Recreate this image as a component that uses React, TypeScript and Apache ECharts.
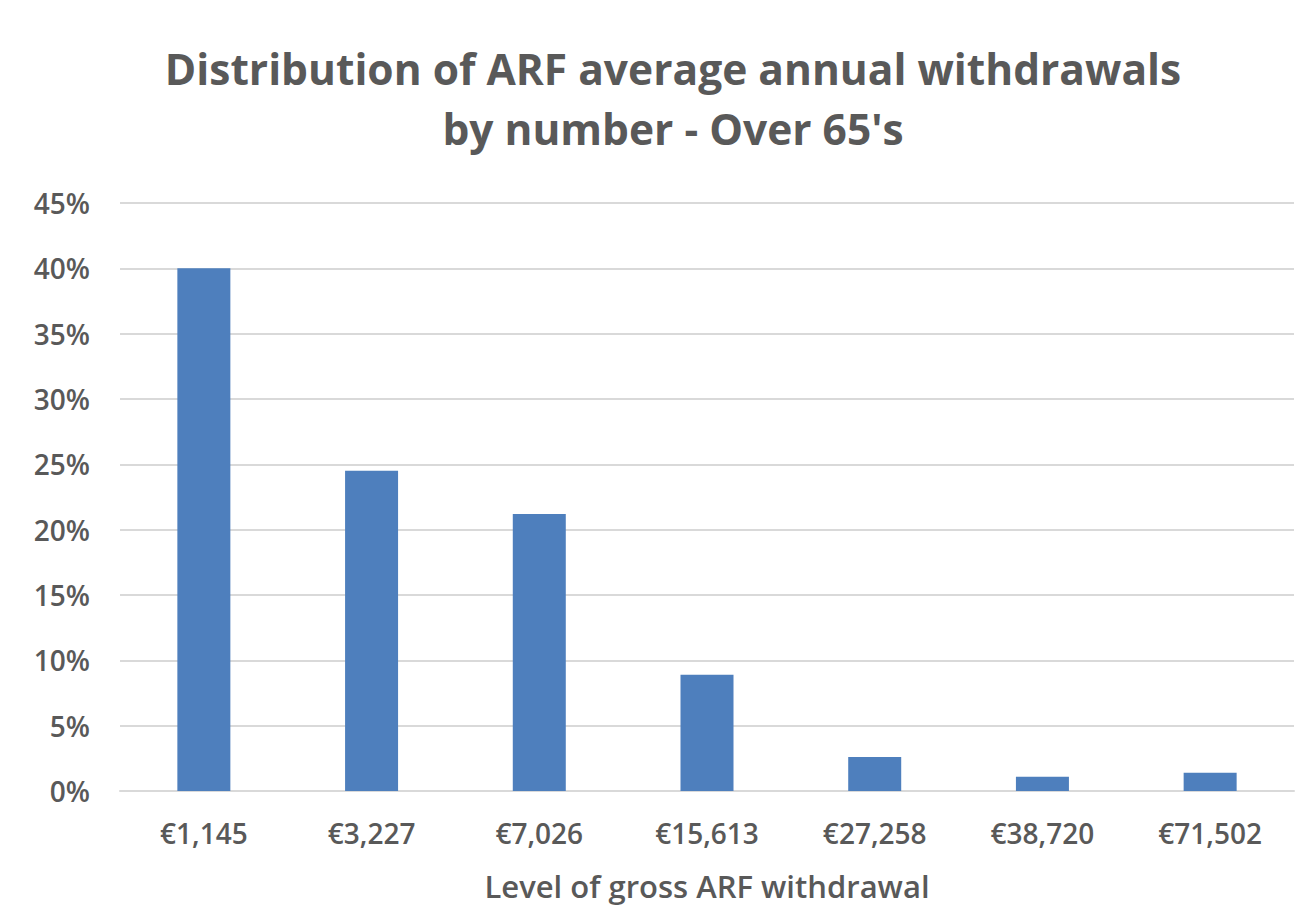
import React, { useEffect, useRef } from "react";
import * as echarts from "echarts";

const categories = ["€1,145", "€3,227", "€7,026", "€15,613", "€27,258", "€38,720", "€71,502"];
const values = [40.0, 24.5, 21.2, 8.9, 2.6, 1.1, 1.4];
const titleLines = ["Distribution of ARF average annual withdrawals", "by number - Over 65's"];
const xAxisTitle = "Level of gross ARF withdrawal";

export default function App() {
  const ref = useRef<HTMLDivElement>(null);
  useEffect(() => {
    document.body.style.margin = "0";
    const chart = echarts.init(ref.current!, null, { renderer: "svg" });
    const font = "'Open Sans', 'Noto Sans', sans-serif";
    chart.setOption({
      animation: false,
      backgroundColor: "#ffffff",
      graphic: [
        {
          type: "text",
          x: 673,
          y: 98,
          style: {
            text: titleLines.join("\n"),
            textAlign: "center",
            textVerticalAlign: "middle",
            fontFamily: font,
            fontWeight: "bold",
            fontSize: 42.5,
            lineHeight: 60,
            fill: "#595959",
          },
        },
      ],
      grid: { left: 120, right: 9, top: 203, bottom: 130, containLabel: false },
      xAxis: {
        type: "category",
        data: categories,
        name: xAxisTitle,
        nameLocation: "middle",
        nameGap: 79,
        nameTextStyle: { fontFamily: font, fontSize: 31, fontWeight: 600, color: "#595959" },
        axisLine: { show: true, lineStyle: { color: "#d9d9d9", width: 2 } },
        axisTick: { show: false },
        axisLabel: { fontFamily: font, fontSize: 28, fontWeight: 600, color: "#595959", margin: 28 },
      },
      yAxis: {
        type: "value",
        min: 0,
        max: 45,
        interval: 5,
        axisLine: { show: false },
        axisTick: { show: false },
        axisLabel: { formatter: "{value}%", fontFamily: font, fontSize: 28, fontWeight: 600, color: "#595959", margin: 30 },
        splitLine: { lineStyle: { color: "#d9d9d9", width: 2 } },
      },
      series: [
        {
          type: "bar",
          data: values,
          barWidth: 53,
          itemStyle: { color: "#4e7fbd" },
        },
      ],
    });
    return () => chart.dispose();
  }, []);
  return <div ref={ref} style={{ width: 1303, height: 921 }} />;
}
